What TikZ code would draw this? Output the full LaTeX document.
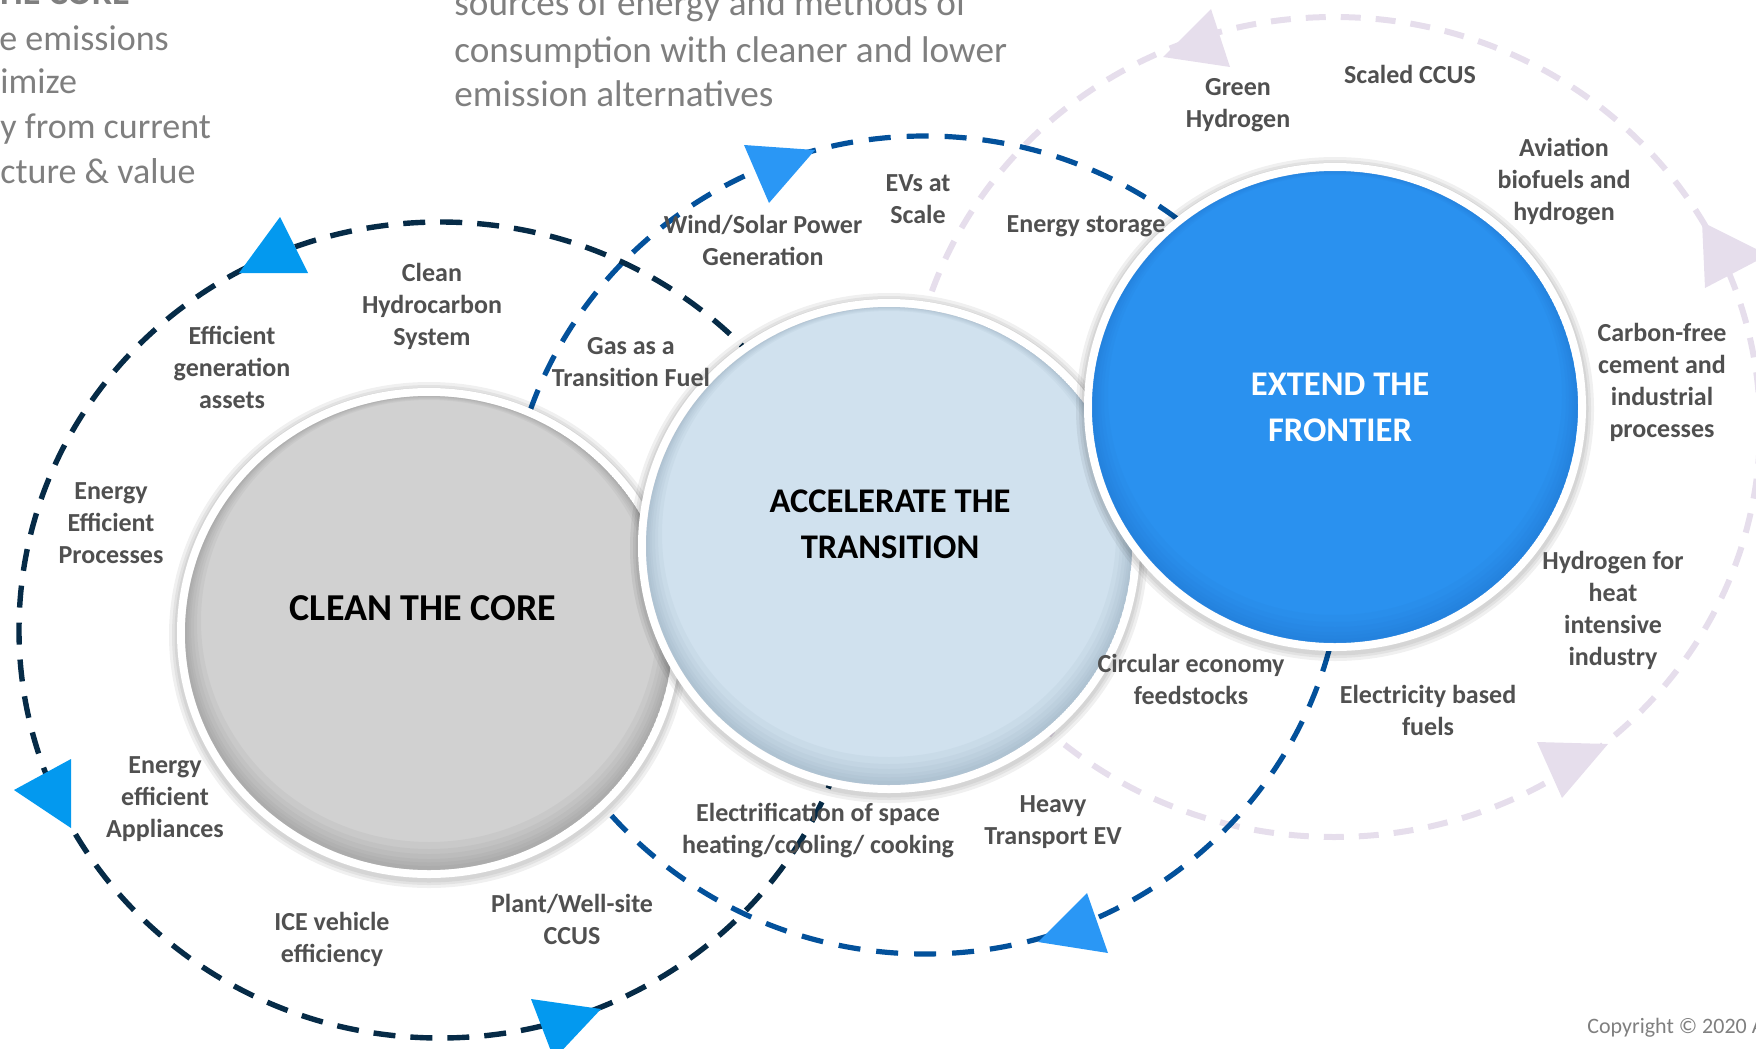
\documentclass[tikz,border=0pt]{standalone}
\usepackage{fontspec}
\setmainfont{Carlito}
\usetikzlibrary{shapes.geometric}
\definecolor{cNavy}{HTML}{062B47}
\definecolor{cMid}{HTML}{03519B}
\definecolor{cLav}{HTML}{E6DEEC}
\definecolor{cArrA}{HTML}{0399EF}
\definecolor{cArrB}{HTML}{2A97F5}
\definecolor{cGrey}{HTML}{D1D1D1}
\definecolor{cGreyRim}{HTML}{808080}
\definecolor{cPale}{HTML}{D0E1EE}
\definecolor{cPaleRim}{HTML}{8A9FB2}
\definecolor{cBlue}{HTML}{2A91EF}
\definecolor{cBlueRim}{HTML}{1F74CC}
\definecolor{cLabel}{HTML}{505050}
\definecolor{cTop}{HTML}{7F7F7F}
% #1 name, #2 cx, #3 cy (px), #4 outer x radius (px), #5 outer y radius (px), #6 fill, #7 rim colour
\newcommand{\mydisc}[7]{%
  \foreach \e in {8,5,2.5}{\fill[black,opacity=0.06] (#2,#3+2) ellipse [x radius={0.5pt*(#4+\e)}, y radius={0.5pt*(#5+\e)}];}
  \node[ellipse, inner sep=0pt, outer sep=0pt, fill=#6, draw=white, line width=4pt,
        minimum width={(#4-4)*1pt}, minimum height={(#5-4)*1pt}] (#1) at (#2,#3) {};
  \begin{scope}
    \clip (#2,#3) ellipse [x radius={0.5pt*(#4-8)}, y radius={0.5pt*(#5-8)}];
    \foreach \d/\s in {2/2,4/3.5,6/5,9/7,12/9,16/12}{%
      \fill[#7, opacity=0.09, even odd rule]
        (#2,#3) ellipse [x radius={0.5pt*(#4-8)}, y radius={0.5pt*(#5-8)}]
        (#2,#3-\s) ellipse [x radius={0.5pt*(#4-8-\d)}, y radius={0.5pt*(#5-8-\d)}];}
  \end{scope}
}
\tikzset{
  navyarc/.style={draw=cNavy, line width=2.7pt, dash pattern=on 11pt off 7.5pt},
  midarc/.style={draw=cMid, line width=2.6pt, dash pattern=on 11pt off 8pt},
  lavarc/.style={draw=cLav, line width=3pt, dash pattern=on 10pt off 7.5pt},
  lab/.style={text=cLabel, font=\fontsize{13}{16}\selectfont\bfseries, align=center, inner sep=0pt, yshift=-1pt},
  head/.style={font=\fontsize{17.3}{23}\selectfont\bfseries, align=center, inner sep=0pt},
  toptext/.style={text=cTop, font=\fontsize{18}{22}\selectfont, inner sep=0pt},
}
\begin{document}
\begin{tikzpicture}[x=0.5pt,y=-0.5pt]
\path[use as bounding box] (0,0) rectangle (1756,1049);
\clip (0,0) rectangle (1756,1049);

% centres of the dashed cycles
\coordinate (cNav) at (440,630);
\coordinate (cMidC) at (925,545);
\coordinate (cLavC) at (1334,427);

% dashed cycles
\draw[lavarc] (cLavC) ellipse [x radius=213pt, y radius=205pt];
\draw[midarc] (cMidC) ellipse [x radius=209pt, y radius=204.5pt];
\draw[navyarc] (cNav) ellipse [x radius=210.5pt, y radius=204pt];

% arrowheads
\fill[cArrA] (280,217) -- (239,273) -- (308,273) -- cycle;
\fill[cArrA] (14,790) -- (71,759) -- (71,828) -- cycle;
\fill[cArrA] (531,999) -- (601,1009) -- (554,1059) -- cycle;
\fill[cArrB] (744,145) -- (815,150) -- (769,203) -- cycle;
\fill[cArrB] (1087,893) -- (1108,953) -- (1038,942) -- cycle;
\fill[cLav] (1211,9) -- (1230,67) -- (1163,57) -- cycle;
\fill[cLav] (1702,222) -- (1768,255) -- (1705,288) -- cycle;
\fill[cLav] (1537,742) -- (1608,744) -- (1562,798) -- cycle;

% discs
\mydisc{core}{429}{633}{252}{245}{cGrey}{cGreyRim}
\mydisc{trans}{889}{546}{251}{247}{cPale}{cPaleRim}
\mydisc{front}{1335}{407}{251}{244}{cBlue}{cBlueRim}

\node[head, font=\fontsize{19}{23}\selectfont\bfseries] (coreT) at (423,608) {CLEAN THE CORE};
\node[head] (transT) at (890,524) {ACCELERATE THE\\TRANSITION};
\node[head, text=white] (frontT) at (1340,407) {EXTEND THE\\FRONTIER};

% labels
\node[lab] (l1) at (1238,103) {Green\\Hydrogen};
\node[lab] (l2) at (1410,72) {Scaled CCUS};
\node[lab] (l3) at (1564,180) {Aviation\\biofuels and\\hydrogen};
\node[lab] (l4) at (1662,380) {Carbon-free\\cement and\\industrial\\processes};
\node[lab] (l5) at (1613,608) {Hydrogen for\\heat\\intensive\\industry};
\node[lab] (l6) at (1428,708) {Electricity based\\fuels};
\node[lab] (l7) at (1191,677) {Circular economy\\feedstocks};
\node[lab] (l8) at (1053,820) {Heavy\\Transport EV};
\node[lab] (l9) at (818,829) {Electrification of space\\heating/cooling/ cooking};
\node[lab] (l10) at (572,917) {Plant/Well-site\\CCUS};
\node[lab] (l11) at (332,937) {ICE vehicle\\efficiency};
\node[lab] (l12) at (165,797) {Energy\\efficient\\Appliances};
\node[lab] (l13) at (111,521) {Energy\\Efficient\\Processes};
\node[lab] (l14) at (232,365) {Efficient\\generation\\assets};
\node[lab] (l15) at (432,304) {Clean\\Hydrocarbon\\System};
\node[lab] (l16) at (631,360) {Gas as a\\Transition Fuel};
\node[lab] (l17) at (763,238) {Wind/Solar Power\\Generation};
\node[lab] (l18) at (918,197) {EVs at\\Scale};
\node[lab] (l19) at (1086,224) {Energy storage};

% cut-off texts at the top
\node[toptext, font=\fontsize{18}{22}\selectfont\bfseries, anchor=base east] (t0) at (130,4) {THE CORE};
\node[toptext, anchor=base west] (t1) at (-1,50) {e emissions};
\node[toptext, anchor=base west] (t2) at (0,93) {imize};
\node[toptext, anchor=base west] (t3) at (0,138) {y from current};
\node[toptext, anchor=base west] (t4) at (0,183) {cture \& value};
\node[toptext, font=\fontsize{18.6}{22}\selectfont, anchor=base west] (m1) at (454,16) {sources of energy and methods of};
\node[toptext, font=\fontsize{18.6}{22}\selectfont, anchor=base west] (m2) at (454,62) {consumption with cleaner and lower};
\node[toptext, font=\fontsize{18.6}{22}\selectfont, anchor=base west] (m3) at (454,106) {emission alternatives};
\node[toptext, font=\fontsize{11}{13}\selectfont, anchor=base west] (cp) at (1587,1033) {Copyright © 2020 A};
\end{tikzpicture}
\end{document}
